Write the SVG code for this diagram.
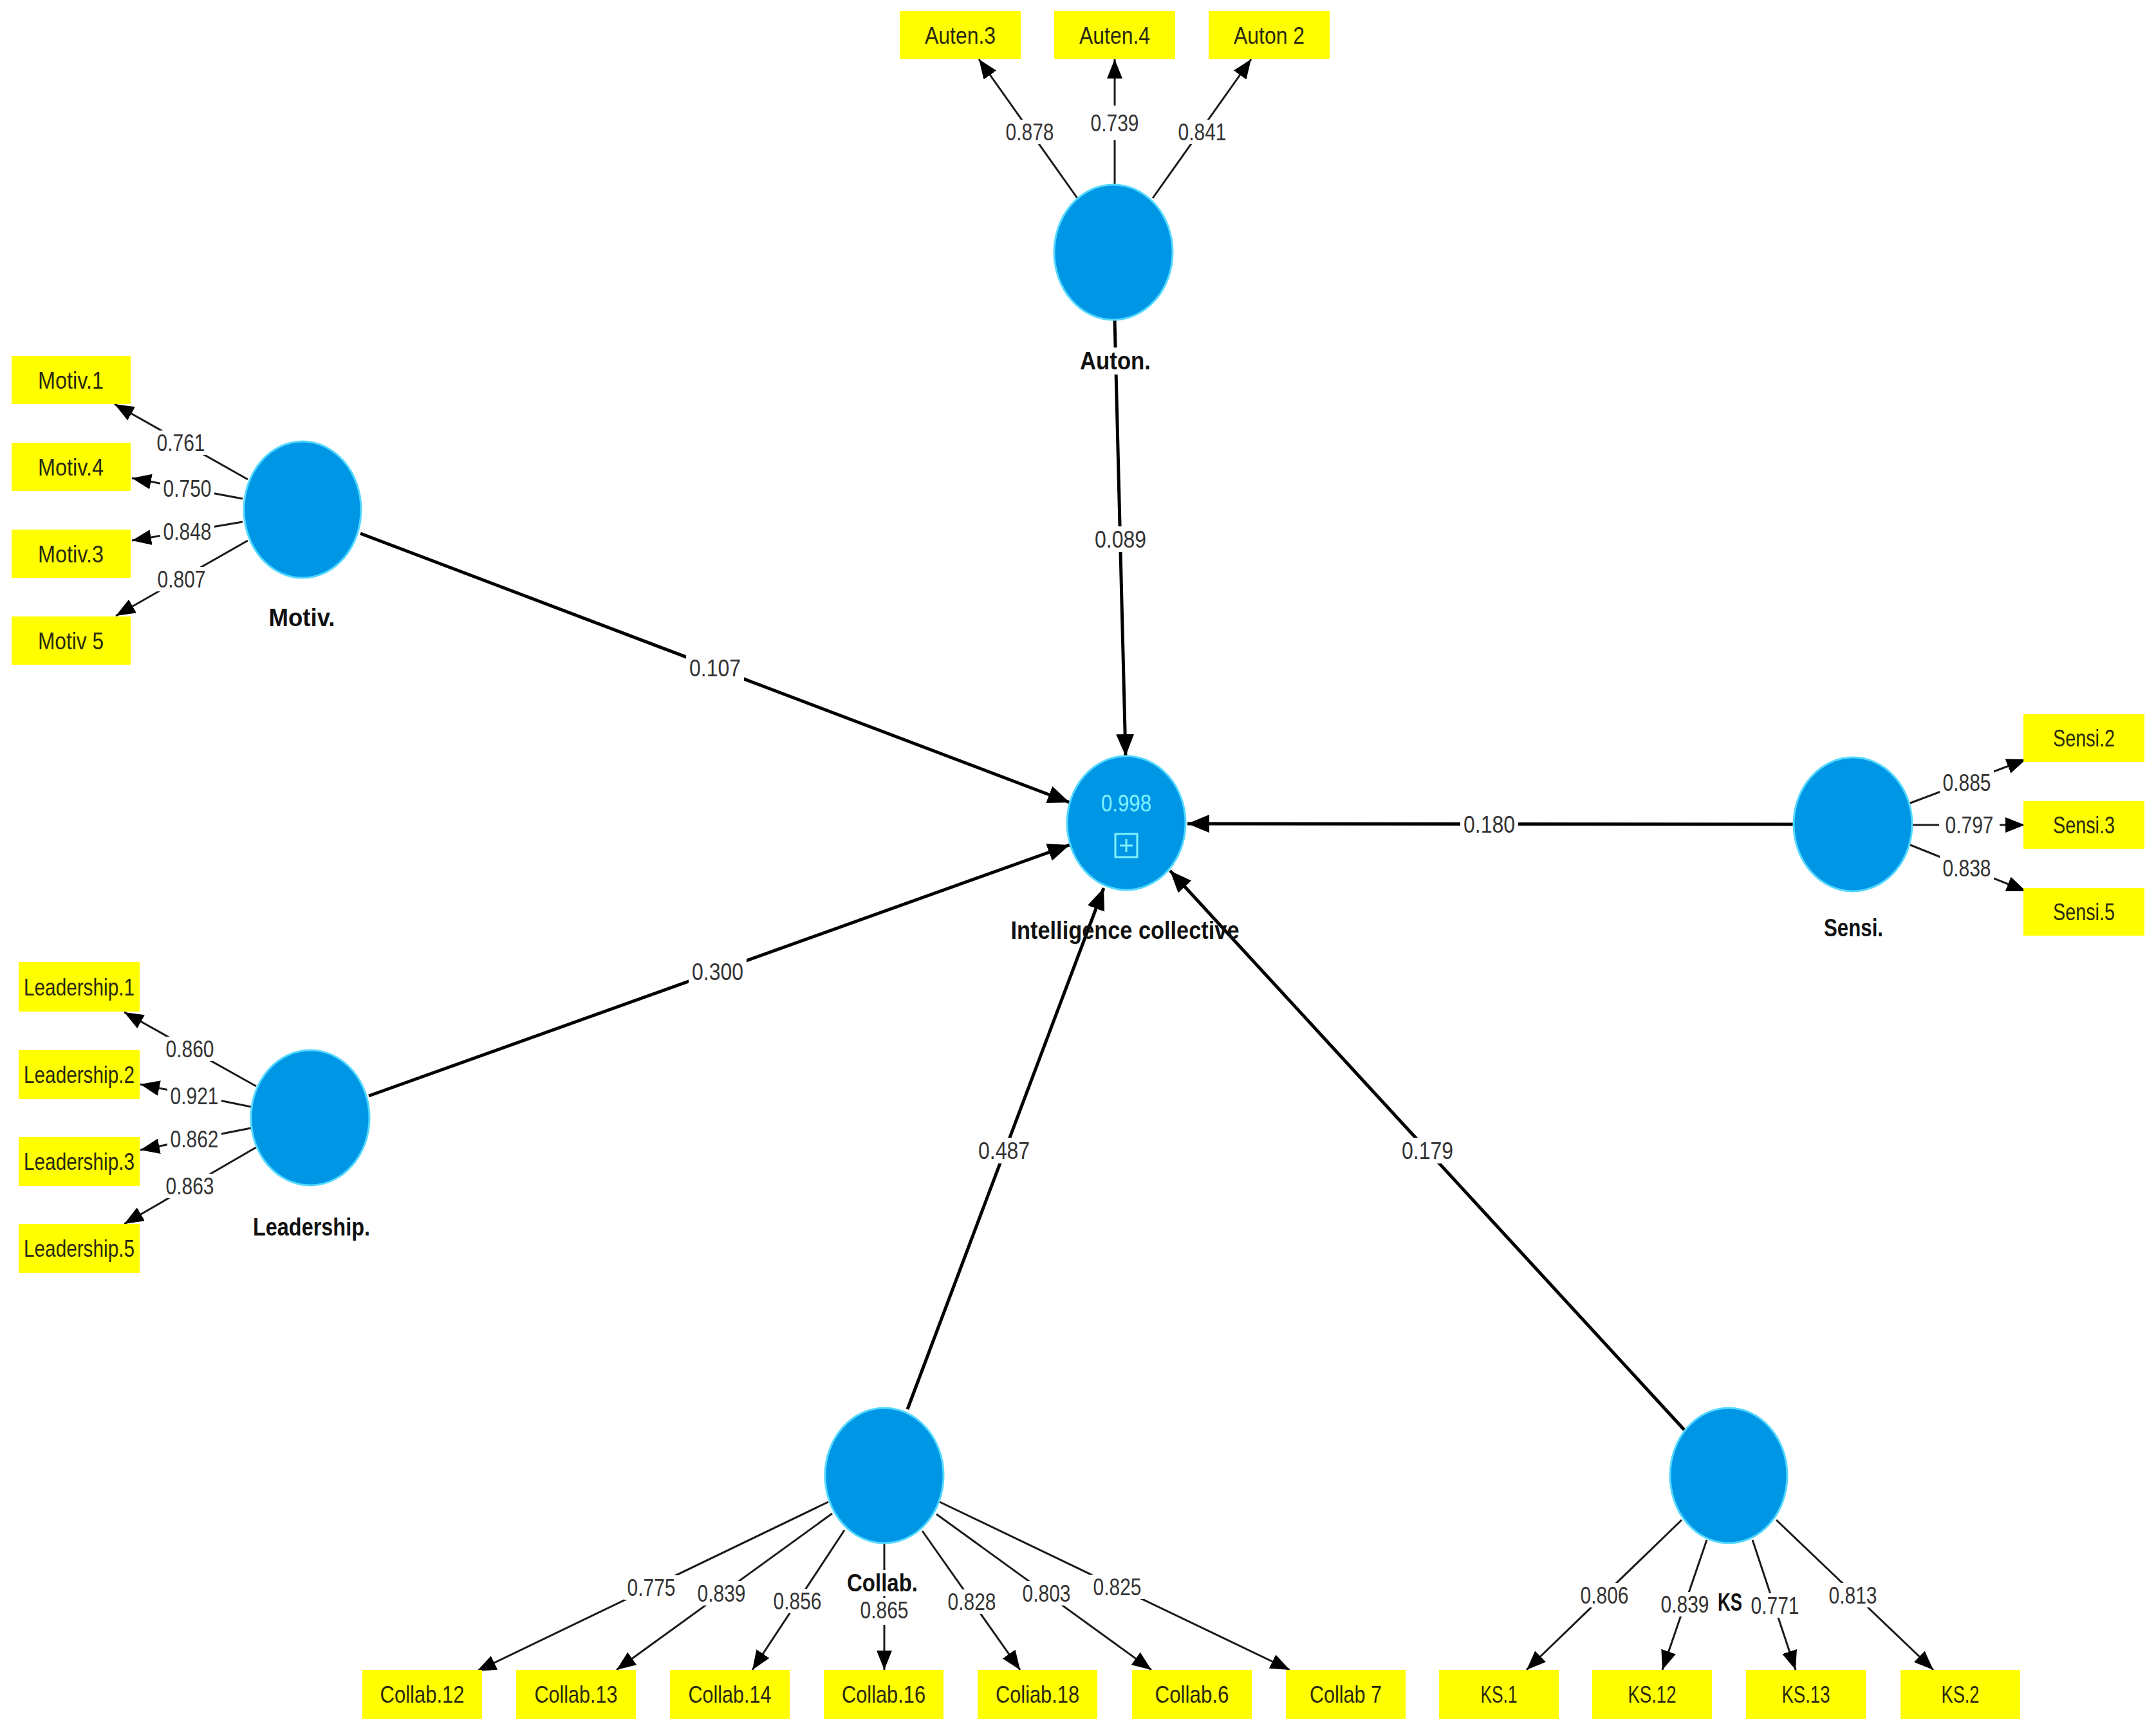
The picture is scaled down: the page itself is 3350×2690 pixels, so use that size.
<svg xmlns="http://www.w3.org/2000/svg" width="3350" height="2690" viewBox="0 0 3350 2690">
<defs>
<style>
text{font-family:"Liberation Sans",Arial,sans-serif;}
.box{fill:#FFFF00;}
.bt{font-size:37px;fill:#2a2a10;text-anchor:middle;}
.num{font-size:37px;fill:#333;text-anchor:middle;}
.lv{fill:#0096E6;stroke:#52D8FF;stroke-width:3;}
.ln{font-size:38px;font-weight:bold;fill:#111;text-anchor:middle;}
.bg{fill:#fff;}
.st{stroke:#000;stroke-width:5;fill:none;marker-end:url(#ah);}
.ms{stroke:#1a1a1a;stroke-width:3;fill:none;marker-end:url(#ah2);}
</style>
<marker id="ah" markerUnits="userSpaceOnUse" viewBox="0 0 34 28" markerWidth="34" markerHeight="28" refX="34" refY="14" orient="auto"><path d="M0,0 L34,14 L0,28 z" fill="#000"/></marker>
<marker id="ah2" markerUnits="userSpaceOnUse" viewBox="0 0 30 24" markerWidth="30" markerHeight="24" refX="30" refY="12" orient="auto"><path d="M0,0 L30,12 L0,24 z" fill="#000"/></marker>
</defs>
<rect width="3350" height="2690" fill="#fff"/>
<g id="connectors">
<!-- structural -->
<line class="st" x1="1732" y1="497" x2="1749" y2="1175"/>
<line class="st" x1="560" y1="829" x2="1662" y2="1247"/>
<line class="st" x1="573" y1="1703" x2="1662" y2="1313"/>
<line class="st" x1="2786" y1="1281" x2="1845" y2="1280"/>
<line class="st" x1="1410" y1="2190" x2="1715" y2="1380"/>
<line class="st" x1="2617" y1="2222" x2="1818" y2="1353"/>
<!-- Auton loadings -->
<line class="ms" x1="1674" y1="308" x2="1521" y2="92"/>
<line class="ms" x1="1732" y1="287" x2="1732" y2="92"/>
<line class="ms" x1="1791" y1="308" x2="1944" y2="92"/>
<!-- Motiv loadings -->
<line class="ms" x1="385" y1="745" x2="178" y2="628"/>
<line class="ms" x1="377" y1="775" x2="205" y2="743"/>
<line class="ms" x1="377" y1="811" x2="205" y2="840"/>
<line class="ms" x1="385" y1="840" x2="180" y2="957"/>
<!-- Leadership loadings -->
<line class="ms" x1="398" y1="1688" x2="193" y2="1573"/>
<line class="ms" x1="390" y1="1720" x2="218" y2="1685"/>
<line class="ms" x1="390" y1="1753" x2="218" y2="1787"/>
<line class="ms" x1="398" y1="1783" x2="193" y2="1902"/>
<!-- Sensi loadings -->
<line class="ms" x1="2968" y1="1248" x2="3148" y2="1180"/>
<line class="ms" x1="2971" y1="1282" x2="3146" y2="1282"/>
<line class="ms" x1="2968" y1="1313" x2="3148" y2="1385"/>
<!-- Collab loadings -->
<line class="ms" x1="1287" y1="2334" x2="741" y2="2597"/>
<line class="ms" x1="1293" y1="2352" x2="958" y2="2595"/>
<line class="ms" x1="1312" y1="2378" x2="1169" y2="2595"/>
<line class="ms" x1="1374" y1="2398" x2="1374" y2="2595"/>
<line class="ms" x1="1433" y1="2379" x2="1585" y2="2595"/>
<line class="ms" x1="1455" y1="2353" x2="1789" y2="2595"/>
<line class="ms" x1="1460" y1="2334" x2="2004" y2="2595"/>
<!-- KS loadings -->
<line class="ms" x1="2613" y1="2362" x2="2372" y2="2595"/>
<line class="ms" x1="2652" y1="2393" x2="2583" y2="2595"/>
<line class="ms" x1="2723" y1="2393" x2="2790" y2="2595"/>
<line class="ms" x1="2760" y1="2362" x2="3004" y2="2595"/>
<!-- structural labels -->
<g>
<rect class="bg" x="1696" y="818" width="90" height="40"/><text class="num" x="1741" y="851" textLength="80" lengthAdjust="spacingAndGlyphs">0.089</text>
<rect class="bg" x="1066" y="1018" width="90" height="40"/><text class="num" x="1111" y="1051" textLength="80" lengthAdjust="spacingAndGlyphs">0.107</text>
<rect class="bg" x="1070" y="1490" width="90" height="40"/><text class="num" x="1115" y="1523" textLength="80" lengthAdjust="spacingAndGlyphs">0.300</text>
<rect class="bg" x="2269" y="1261" width="90" height="40"/><text class="num" x="2314" y="1294" textLength="80" lengthAdjust="spacingAndGlyphs">0.180</text>
<rect class="bg" x="1515" y="1768" width="90" height="40"/><text class="num" x="1560" y="1801" textLength="80" lengthAdjust="spacingAndGlyphs">0.487</text>
<rect class="bg" x="2173" y="1768" width="90" height="40"/><text class="num" x="2218" y="1801" textLength="80" lengthAdjust="spacingAndGlyphs">0.179</text>
</g>
<!-- loading labels -->
<g>
<rect class="bg" x="1558" y="186" width="84" height="38"/><text class="num" x="1600" y="218" textLength="75" lengthAdjust="spacingAndGlyphs">0.878</text>
<rect class="bg" x="1690" y="164" width="84" height="54"/><text class="num" x="1732" y="204" textLength="75" lengthAdjust="spacingAndGlyphs">0.739</text>
<rect class="bg" x="1826" y="186" width="84" height="38"/><text class="num" x="1868" y="218" textLength="75" lengthAdjust="spacingAndGlyphs">0.841</text>

<rect class="bg" x="239" y="669" width="84" height="38"/><text class="num" x="281" y="701" textLength="75" lengthAdjust="spacingAndGlyphs">0.761</text>
<rect class="bg" x="249" y="740" width="84" height="38"/><text class="num" x="291" y="772" textLength="75" lengthAdjust="spacingAndGlyphs">0.750</text>
<rect class="bg" x="249" y="807" width="84" height="38"/><text class="num" x="291" y="839" textLength="75" lengthAdjust="spacingAndGlyphs">0.848</text>
<rect class="bg" x="240" y="881" width="84" height="38"/><text class="num" x="282" y="913" textLength="75" lengthAdjust="spacingAndGlyphs">0.807</text>

<rect class="bg" x="253" y="1611" width="84" height="38"/><text class="num" x="295" y="1643" textLength="75" lengthAdjust="spacingAndGlyphs">0.860</text>
<rect class="bg" x="260" y="1684" width="84" height="38"/><text class="num" x="302" y="1716" textLength="75" lengthAdjust="spacingAndGlyphs">0.921</text>
<rect class="bg" x="260" y="1751" width="84" height="38"/><text class="num" x="302" y="1783" textLength="75" lengthAdjust="spacingAndGlyphs">0.862</text>
<rect class="bg" x="253" y="1824" width="84" height="38"/><text class="num" x="295" y="1856" textLength="75" lengthAdjust="spacingAndGlyphs">0.863</text>

<rect class="bg" x="3014" y="1197" width="84" height="38"/><text class="num" x="3056" y="1229" textLength="75" lengthAdjust="spacingAndGlyphs">0.885</text>
<rect class="bg" x="3013" y="1263" width="94" height="38"/><text class="num" x="3060" y="1295" textLength="75" lengthAdjust="spacingAndGlyphs">0.797</text>
<rect class="bg" x="3014" y="1330" width="84" height="38"/><text class="num" x="3056" y="1362" textLength="75" lengthAdjust="spacingAndGlyphs">0.838</text>

<rect class="bg" x="970" y="2448" width="84" height="38"/><text class="num" x="1012" y="2480" textLength="75" lengthAdjust="spacingAndGlyphs">0.775</text>
<rect class="bg" x="1079" y="2457" width="84" height="38"/><text class="num" x="1121" y="2489" textLength="75" lengthAdjust="spacingAndGlyphs">0.839</text>
<rect class="bg" x="1197" y="2469" width="84" height="38"/><text class="num" x="1239" y="2501" textLength="75" lengthAdjust="spacingAndGlyphs">0.856</text>
<rect class="bg" x="1332" y="2483" width="84" height="42"/><text class="num" x="1374" y="2515" textLength="75" lengthAdjust="spacingAndGlyphs">0.865</text>
<rect class="bg" x="1468" y="2470" width="84" height="38"/><text class="num" x="1510" y="2502" textLength="75" lengthAdjust="spacingAndGlyphs">0.828</text>
<rect class="bg" x="1584" y="2457" width="84" height="38"/><text class="num" x="1626" y="2489" textLength="75" lengthAdjust="spacingAndGlyphs">0.803</text>
<rect class="bg" x="1694" y="2447" width="84" height="38"/><text class="num" x="1736" y="2479" textLength="75" lengthAdjust="spacingAndGlyphs">0.825</text>

<rect class="bg" x="2451" y="2460" width="84" height="38"/><text class="num" x="2493" y="2492" textLength="75" lengthAdjust="spacingAndGlyphs">0.806</text>
<rect class="bg" x="2576" y="2474" width="84" height="38"/><text class="num" x="2618" y="2506" textLength="75" lengthAdjust="spacingAndGlyphs">0.839</text>
<rect class="bg" x="2716" y="2476" width="84" height="38"/><text class="num" x="2758" y="2508" textLength="75" lengthAdjust="spacingAndGlyphs">0.771</text>
<rect class="bg" x="2837" y="2460" width="84" height="38"/><text class="num" x="2879" y="2492" textLength="75" lengthAdjust="spacingAndGlyphs">0.813</text>
</g>
</g>

<!-- latent variables -->
<g id="node-ic">
<ellipse class="lv" cx="1750" cy="1279" rx="92" ry="104"/>
<text x="1750" y="1261" font-size="37" fill="#80F2FF" text-anchor="middle" textLength="78" lengthAdjust="spacingAndGlyphs">0.998</text>
<rect x="1733" y="1296" width="34" height="36" fill="none" stroke="#80F2FF" stroke-width="3"/>
<line x1="1740" y1="1314" x2="1760" y2="1314" stroke="#80F2FF" stroke-width="3"/>
<line x1="1750" y1="1304" x2="1750" y2="1324" stroke="#80F2FF" stroke-width="3"/>
<text class="ln" x="1748" y="1459" textLength="355" lengthAdjust="spacingAndGlyphs">Intelligence collective</text>
</g>
<g id="node-auton">
<ellipse class="lv" cx="1730" cy="392" rx="92" ry="105"/>
<rect class="bg" x="1673" y="540" width="120" height="42"/>
<text class="ln" x="1733" y="574" textLength="110" lengthAdjust="spacingAndGlyphs">Auton.</text>
</g>
<g id="node-motiv">
<ellipse class="lv" cx="470" cy="792" rx="91" ry="106"/>
<text class="ln" x="469" y="973" textLength="103" lengthAdjust="spacingAndGlyphs">Motiv.</text>
</g>
<g id="node-leadership">
<ellipse class="lv" cx="482" cy="1737" rx="92" ry="105"/>
<text class="ln" x="484" y="1920" textLength="182" lengthAdjust="spacingAndGlyphs">Leadership.</text>
</g>
<g id="node-sensi">
<ellipse class="lv" cx="2879" cy="1281" rx="92" ry="104"/>
<text class="ln" x="2880" y="1455" textLength="92" lengthAdjust="spacingAndGlyphs">Sensi.</text>
</g>
<g id="node-collab">
<ellipse class="lv" cx="1374" cy="2293" rx="92" ry="105"/>
<rect class="bg" x="1314" y="2440" width="120" height="40"/>
<text class="ln" x="1371" y="2473" textLength="110" lengthAdjust="spacingAndGlyphs">Collab.</text>
</g>
<g id="node-ks">
<ellipse class="lv" cx="2686" cy="2293" rx="91" ry="105"/>
<text class="ln" x="2688" y="2503" textLength="38" lengthAdjust="spacingAndGlyphs">KS</text>
</g>

<!-- indicators -->
<g id="ind-auten3"><rect class="box" x="1398" y="17" width="188" height="75"/><text class="bt" x="1492" y="68" textLength="110" lengthAdjust="spacingAndGlyphs">Auten.3</text></g>
<g id="ind-auten4"><rect class="box" x="1638" y="17" width="188" height="75"/><text class="bt" x="1732" y="68" textLength="110" lengthAdjust="spacingAndGlyphs">Auten.4</text></g>
<g id="ind-auton2"><rect class="box" x="1878" y="17" width="188" height="75"/><text class="bt" x="1972" y="68" textLength="110" lengthAdjust="spacingAndGlyphs">Auton 2</text></g>

<g id="ind-motiv1"><rect class="box" x="18" y="553" width="185" height="75"/><text class="bt" x="110" y="604" textLength="102" lengthAdjust="spacingAndGlyphs">Motiv.1</text></g>
<g id="ind-motiv4"><rect class="box" x="18" y="688" width="185" height="75"/><text class="bt" x="110" y="739" textLength="102" lengthAdjust="spacingAndGlyphs">Motiv.4</text></g>
<g id="ind-motiv3"><rect class="box" x="18" y="823" width="185" height="75"/><text class="bt" x="110" y="874" textLength="102" lengthAdjust="spacingAndGlyphs">Motiv.3</text></g>
<g id="ind-motiv5"><rect class="box" x="18" y="958" width="185" height="75"/><text class="bt" x="110" y="1009" textLength="102" lengthAdjust="spacingAndGlyphs">Motiv 5</text></g>

<g id="ind-lead1"><rect class="box" x="29" y="1495" width="188" height="77"/><text class="bt" x="123" y="1547" textLength="172" lengthAdjust="spacingAndGlyphs">Leadership.1</text></g>
<g id="ind-lead2"><rect class="box" x="29" y="1632" width="188" height="76"/><text class="bt" x="123" y="1683" textLength="172" lengthAdjust="spacingAndGlyphs">Leadership.2</text></g>
<g id="ind-lead3"><rect class="box" x="29" y="1767" width="188" height="76"/><text class="bt" x="123" y="1818" textLength="172" lengthAdjust="spacingAndGlyphs">Leadership.3</text></g>
<g id="ind-lead5"><rect class="box" x="29" y="1902" width="188" height="76"/><text class="bt" x="123" y="1953" textLength="172" lengthAdjust="spacingAndGlyphs">Leadership.5</text></g>

<g id="ind-sensi2"><rect class="box" x="3144" y="1110" width="188" height="74"/><text class="bt" x="3238" y="1160" textLength="96" lengthAdjust="spacingAndGlyphs">Sensi.2</text></g>
<g id="ind-sensi3"><rect class="box" x="3144" y="1245" width="188" height="74"/><text class="bt" x="3238" y="1295" textLength="96" lengthAdjust="spacingAndGlyphs">Sensi.3</text></g>
<g id="ind-sensi5"><rect class="box" x="3144" y="1380" width="188" height="74"/><text class="bt" x="3238" y="1430" textLength="96" lengthAdjust="spacingAndGlyphs">Sensi.5</text></g>

<g id="ind-collab12"><rect class="box" x="563" y="2595" width="186" height="76"/><text class="bt" x="656" y="2646" textLength="131" lengthAdjust="spacingAndGlyphs">Collab.12</text></g>
<g id="ind-collab13"><rect class="box" x="802" y="2595" width="186" height="76"/><text class="bt" x="895" y="2646" textLength="129" lengthAdjust="spacingAndGlyphs">Collab.13</text></g>
<g id="ind-collab14"><rect class="box" x="1041" y="2595" width="186" height="76"/><text class="bt" x="1134" y="2646" textLength="129" lengthAdjust="spacingAndGlyphs">Collab.14</text></g>
<g id="ind-collab16"><rect class="box" x="1280" y="2595" width="186" height="76"/><text class="bt" x="1373" y="2646" textLength="130" lengthAdjust="spacingAndGlyphs">Collab.16</text></g>
<g id="ind-collab18"><rect class="box" x="1519" y="2595" width="186" height="76"/><text class="bt" x="1612" y="2646" textLength="130" lengthAdjust="spacingAndGlyphs">Coliab.18</text></g>
<g id="ind-collab6"><rect class="box" x="1759" y="2595" width="186" height="76"/><text class="bt" x="1852" y="2646" textLength="115" lengthAdjust="spacingAndGlyphs">Collab.6</text></g>
<g id="ind-collab7"><rect class="box" x="1998" y="2595" width="186" height="76"/><text class="bt" x="2091" y="2646" textLength="112" lengthAdjust="spacingAndGlyphs">Collab 7</text></g>

<g id="ind-ks1"><rect class="box" x="2236" y="2595" width="186" height="76"/><text class="bt" x="2329" y="2646" textLength="57" lengthAdjust="spacingAndGlyphs">KS.1</text></g>
<g id="ind-ks12"><rect class="box" x="2474" y="2595" width="186" height="76"/><text class="bt" x="2567" y="2646" textLength="75" lengthAdjust="spacingAndGlyphs">KS.12</text></g>
<g id="ind-ks13"><rect class="box" x="2713" y="2595" width="186" height="76"/><text class="bt" x="2806" y="2646" textLength="75" lengthAdjust="spacingAndGlyphs">KS.13</text></g>
<g id="ind-ks2"><rect class="box" x="2953" y="2595" width="186" height="76"/><text class="bt" x="3046" y="2646" textLength="59" lengthAdjust="spacingAndGlyphs">KS.2</text></g>
</svg>
